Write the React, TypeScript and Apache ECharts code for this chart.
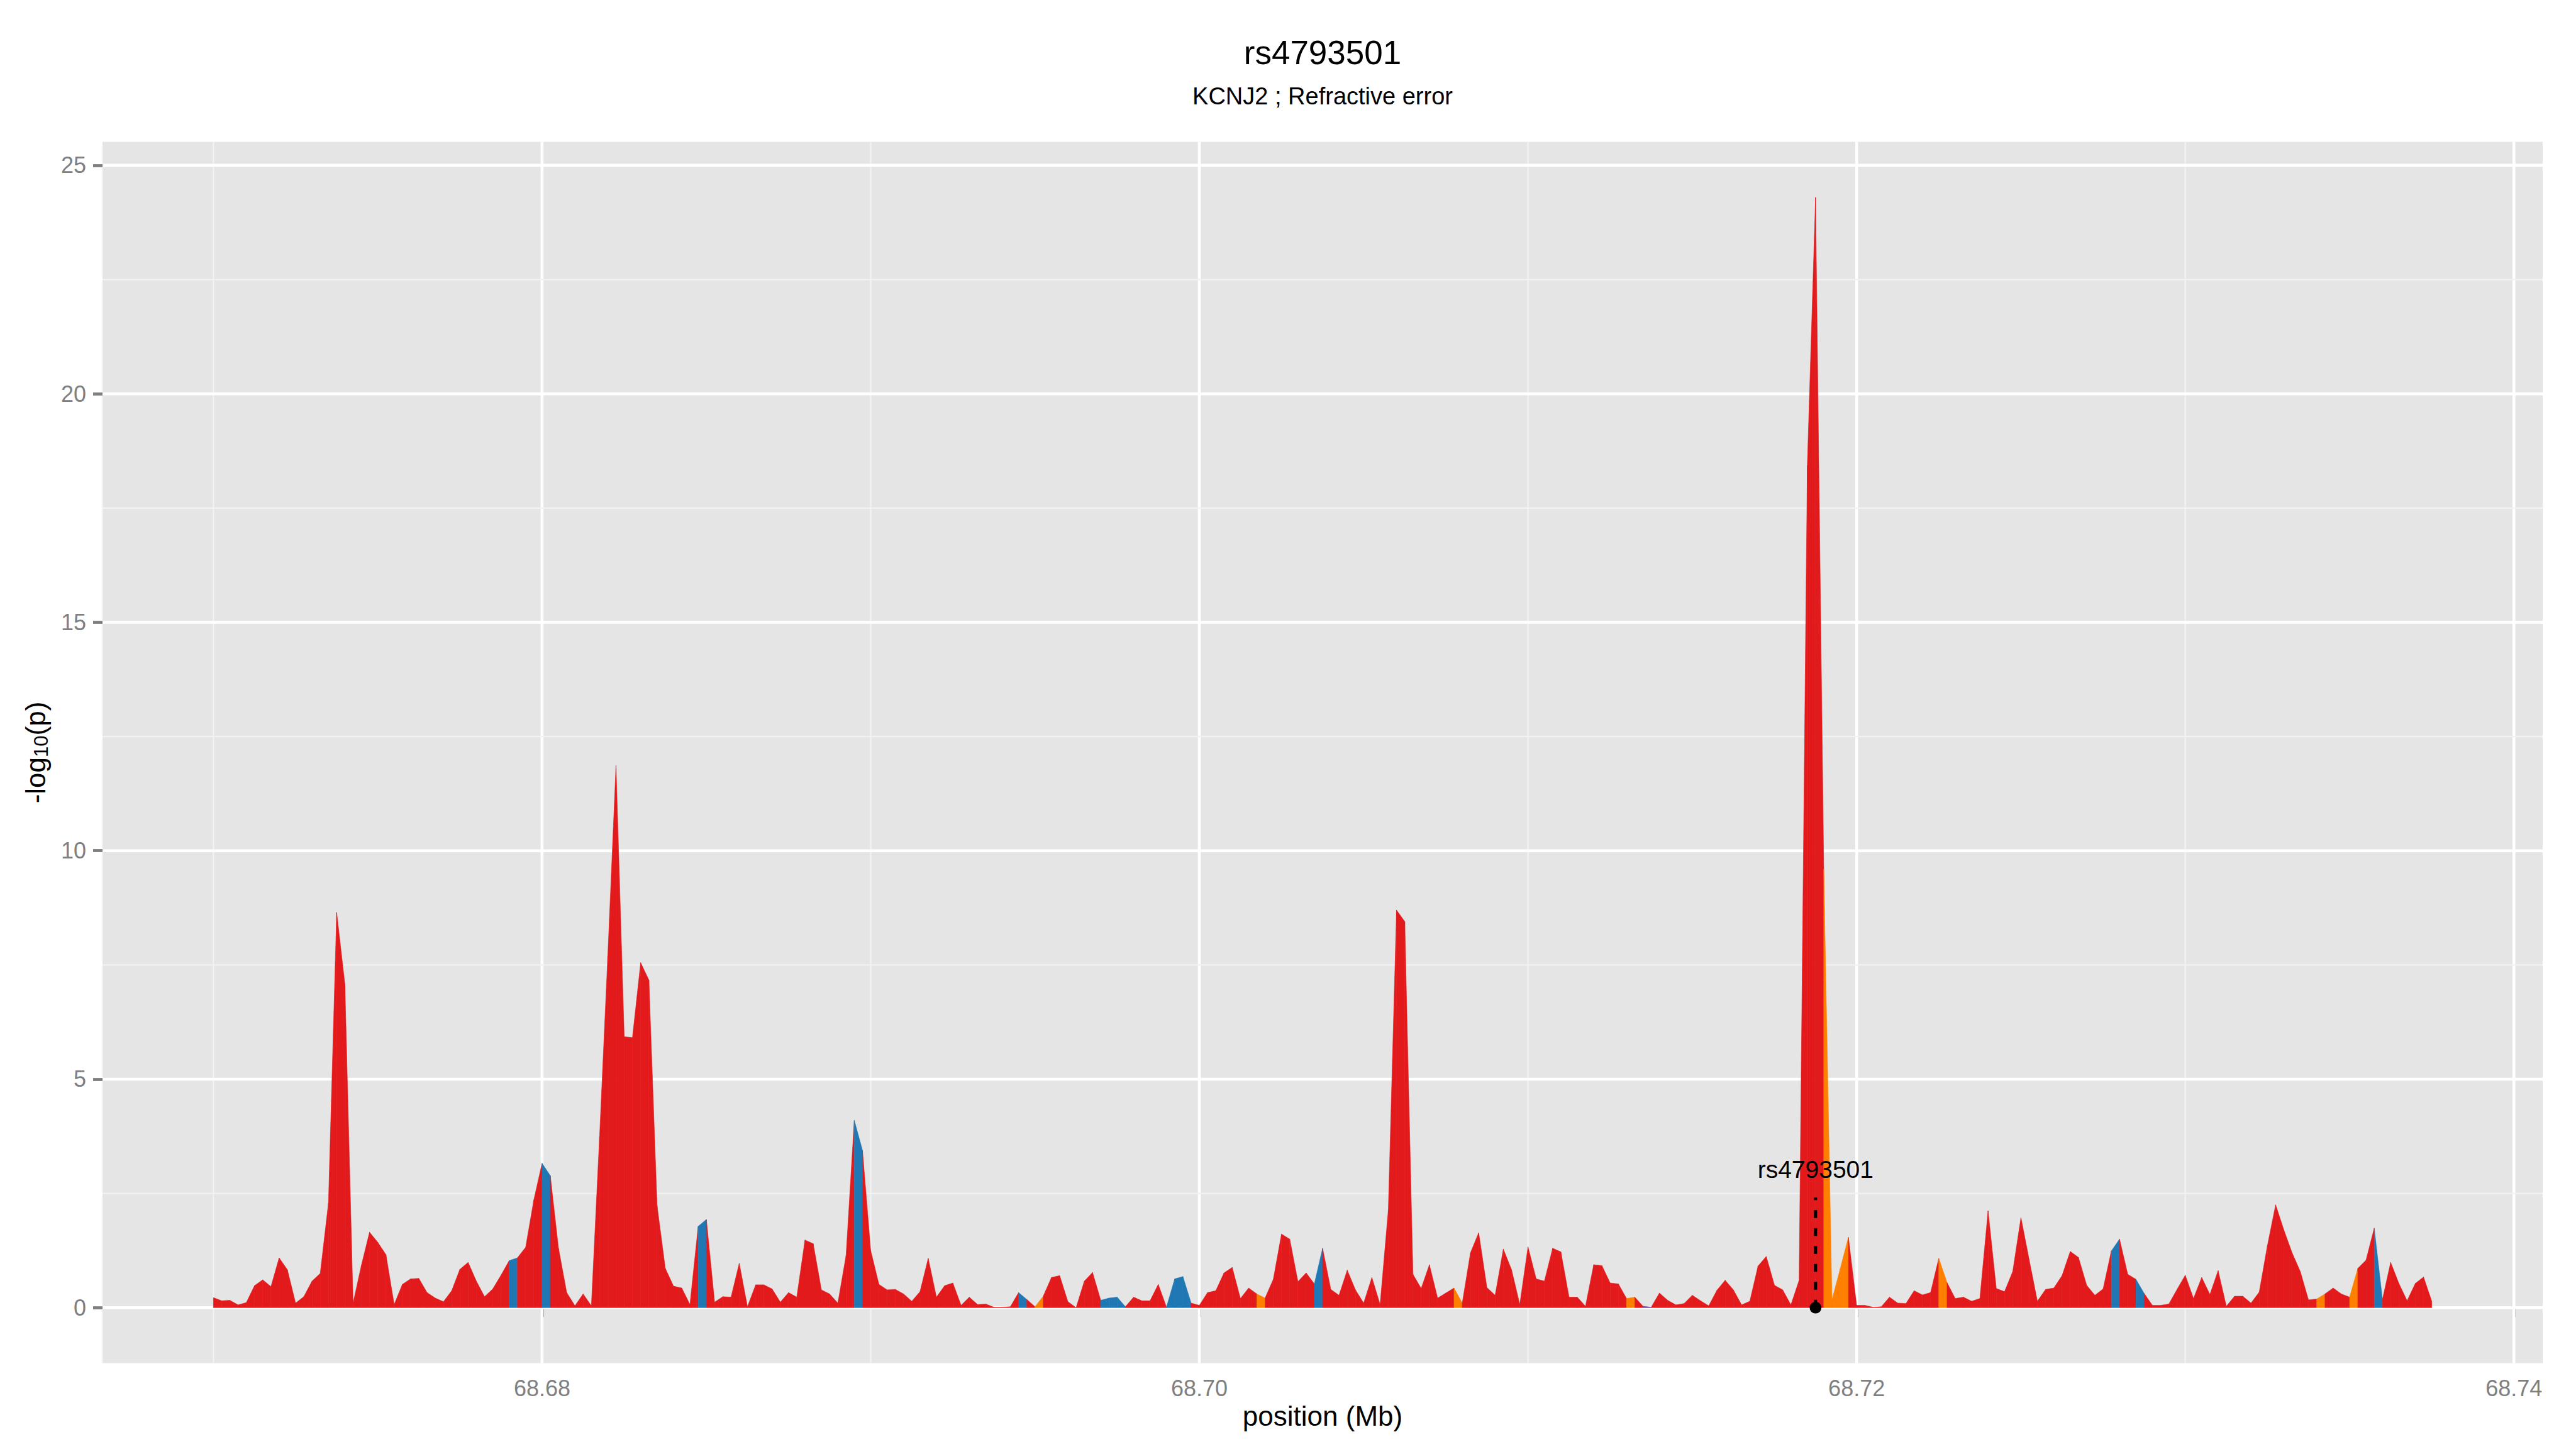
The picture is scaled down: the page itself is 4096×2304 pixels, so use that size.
import React, { useEffect, useRef } from "react";
import * as echarts from "echarts";

// ---------------- data ----------------
const plotTitle = "rs4793501";
const plotSubtitle = "KCNJ2 ; Refractive error";
const xAxisTitle = "position (Mb)";

// association signal, one value per 250 bp bin starting at 68.67 Mb
const binStartMb = 68.67;
const binWidthMb = 0.00025;
const negLog10P = [
  0.22, 0.15, 0.16, 0.06, 0.11, 0.48, 0.61, 0.46, 1.09, 0.83,
  0.10, 0.24, 0.58, 0.75, 2.29, 8.65, 7.08, 0.10, 0.92, 1.65,
  1.43, 1.16, 0.07, 0.51, 0.63, 0.64, 0.33, 0.21, 0.13, 0.37,
  0.84, 0.99, 0.58, 0.24, 0.41, 0.71, 1.03, 1.09, 1.32, 2.36,
  3.16, 2.89, 1.30, 0.33, 0.04, 0.30, 0.04, 3.75, 7.70, 11.87,
  5.93, 5.91, 7.55, 7.17, 2.23, 0.86, 0.47, 0.43, 0.07, 1.78,
  1.93, 0.12, 0.24, 0.23, 0.97, 0.02, 0.50, 0.50, 0.41, 0.12,
  0.33, 0.23, 1.48, 1.40, 0.39, 0.30, 0.10, 1.14, 4.10, 3.44,
  1.25, 0.51, 0.39, 0.40, 0.30, 0.14, 0.35, 1.08, 0.23, 0.48,
  0.54, 0.05, 0.23, 0.07, 0.08, 0.01, 0.01, 0.02, 0.33, 0.18,
  0.02, 0.25, 0.66, 0.70, 0.13, 0.00, 0.58, 0.77, 0.16, 0.21,
  0.23, 0.02, 0.23, 0.15, 0.15, 0.51, 0.01, 0.63, 0.68, 0.10,
  0.05, 0.33, 0.37, 0.76, 0.88, 0.20, 0.43, 0.30, 0.21, 0.62,
  1.61, 1.50, 0.57, 0.76, 0.52, 1.30, 0.40, 0.27, 0.82, 0.39,
  0.10, 0.66, 0.07, 2.14, 8.70, 8.45, 0.73, 0.42, 0.94, 0.21,
  0.32, 0.43, 0.10, 1.20, 1.64, 0.44, 0.27, 1.28, 0.83, 0.07,
  1.33, 0.63, 0.58, 1.30, 1.22, 0.23, 0.23, 0.03, 0.94, 0.92,
  0.54, 0.52, 0.20, 0.23, 0.03, 0.01, 0.32, 0.16, 0.06, 0.09,
  0.27, 0.15, 0.04, 0.38, 0.60, 0.39, 0.06, 0.14, 0.91, 1.12,
  0.49, 0.39, 0.06, 0.60, 18.43, 24.30, 9.60, 0.17, 0.85, 1.54,
  0.05, 0.05, 0.01, 0.02, 0.23, 0.10, 0.09, 0.37, 0.28, 0.33,
  1.08, 0.55, 0.20, 0.23, 0.14, 0.20, 2.12, 0.42, 0.35, 0.79,
  1.97, 1.05, 0.14, 0.40, 0.43, 0.70, 1.23, 1.10, 0.49, 0.27,
  0.41, 1.24, 1.50, 0.73, 0.62, 0.31, 0.05, 0.05, 0.08, 0.40,
  0.71, 0.20, 0.66, 0.29, 0.81, 0.03, 0.25, 0.25, 0.10, 0.34,
  1.36, 2.25, 1.70, 1.20, 0.79, 0.17, 0.19, 0.30, 0.43, 0.30,
  0.23, 0.86, 1.04, 1.74, 0.18, 0.99, 0.53, 0.15, 0.53, 0.67, 0.14,
];

// segment (bin i -> bin i+1) colour classes; all others are red
const blueSegments = [36, 40, 59, 78, 98, 108, 109, 110, 116, 117, 118, 134, 231, 234, 263];
const orangeSegments = [100, 127, 151, 172, 196, 197, 198, 210, 256, 260];
const purpleSegments = [174];
const classColors = ["#E31A1C", "#1F78B4", "#FF7F00", "#6A3D9A"];

// lead SNP annotation
const leadSnpName = "rs4793501";
const leadSnpIndex = 195;
const leadSnpLineTop = 2.41;
const leadSnpLabelY = 3.02;

// axis breaks
const xMajorBreaks = [68.68, 68.7, 68.72, 68.74];
const xMinorBreaks = [68.67, 68.69, 68.71, 68.73];
const yMajorBreaks = [0, 5, 10, 15, 20, 25];
const yMinorBreaks = [2.5, 7.5, 12.5, 17.5, 22.5];

// ---------------- layout ----------------
const W = 4096;
const H = 2304;
const FONT = "'Liberation Sans', Arial, Helvetica, sans-serif";
const GRID = { left: 163, right: 53, top: 225.5, bottom: 136.5 };

export default function App() {
  const ref = useRef<HTMLDivElement>(null);

  useEffect(() => {
    if (!ref.current) return;
    const chart = echarts.init(ref.current, null, { renderer: "svg", width: W, height: H });

    const positions = negLog10P.map((_, i) => +(binStartMb + i * binWidthMb).toFixed(6));
    const classOf = (i: number) =>
      blueSegments.includes(i) ? 1 : orangeSegments.includes(i) ? 2 : purpleSegments.includes(i) ? 3 : 0;
    const segments: number[][] = [];
    for (let i = 0; i < negLog10P.length - 1; i++) {
      segments.push([positions[i], negLog10P[i], positions[i + 1], negLog10P[i + 1], classOf(i)]);
    }

    const xSpan = positions[positions.length - 1] - positions[0];
    const xMin = positions[0] - 0.05 * xSpan;
    const xMax = positions[positions.length - 1] + 0.05 * xSpan;
    const yTop = Math.max(...negLog10P);
    const yMin = -0.05 * yTop;
    const yMax = yTop * 1.05;

    const vGrid = [
      ...xMinorBreaks.map((x) => [x, 0, 0]),
      ...xMajorBreaks.map((x) => [x, 0, 1]),
    ];
    const hGrid = [
      ...yMinorBreaks.map((y) => [xMin, y, 0]),
      ...yMajorBreaks.map((y) => [xMin, y, 1]),
    ];

    const gridCenterX = GRID.left + (W - GRID.left - GRID.right) / 2;

    chart.setOption({
      animation: false,
      backgroundColor: "#FFFFFF",
      graphic: [
        {
          type: "text",
          x: gridCenterX,
          y: 83.2,
          style: {
            text: plotTitle,
            fontSize: 53,
            fontFamily: FONT,
            fill: "#000000",
            align: "center",
            verticalAlign: "middle",
          },
        },
        {
          type: "text",
          x: gridCenterX,
          y: 152.7,
          style: {
            text: plotSubtitle,
            fontSize: 38,
            fontFamily: FONT,
            fill: "#000000",
            align: "center",
            verticalAlign: "middle",
          },
        },
      ],
      grid: {
        left: GRID.left,
        right: GRID.right,
        top: GRID.top,
        bottom: GRID.bottom,
        show: true,
        backgroundColor: "#E5E5E5",
        borderWidth: 0,
        containLabel: false,
        outerBoundsMode: "none",
      },
      xAxis: {
        type: "value",
        min: xMin,
        max: xMax,
        axisLine: { show: false },
        splitLine: { show: false },
        axisTick: {
          show: true,
          customValues: xMajorBreaks,
          length: 15,
          lineStyle: { color: "#7F7F7F", width: 4.8 },
        },
        axisLabel: {
          customValues: xMajorBreaks,
          formatter: (v: number) => v.toFixed(2),
          margin: 22,
          fontSize: 36,
          fontFamily: FONT,
          color: "#7F7F7F",
        },
        name: xAxisTitle,
        nameLocation: "middle",
        nameGap: 62,
        nameMoveOverlap: false,
        nameTextStyle: { fontSize: 44, fontFamily: FONT, color: "#000000" },
      },
      yAxis: {
        type: "value",
        min: yMin,
        max: yMax,
        axisLine: { show: false },
        splitLine: { show: false },
        axisTick: {
          show: true,
          customValues: yMajorBreaks,
          length: 15,
          lineStyle: { color: "#7F7F7F", width: 4.8 },
        },
        axisLabel: {
          customValues: yMajorBreaks,
          formatter: (v: number) => String(Math.round(v)),
          margin: 26,
          fontSize: 36,
          fontFamily: FONT,
          color: "#7F7F7F",
        },
        name: "{a|-log}{b|10}{a|(p)}",
        nameLocation: "middle",
        nameRotate: 90,
        nameGap: 82,
        nameMoveOverlap: false,
        nameTextStyle: {
          fontSize: 44,
          fontFamily: FONT,
          color: "#000000",
          rich: {
            a: { fontSize: 44, fontFamily: FONT, color: "#000000", lineHeight: 50 },
            b: { fontSize: 31, fontFamily: FONT, color: "#000000", lineHeight: 28, verticalAlign: "bottom" },
          },
        },
      },
      series: [
        {
          type: "custom",
          name: "vgrid",
          z: 1,
          silent: true,
          data: vGrid,
          renderItem: (params: any, api: any) => {
            const x = api.coord([api.value(0), 0])[0];
            const cs = params.coordSys;
            const major = api.value(2) === 1;
            return {
              type: "line",
              shape: { x1: x, y1: cs.y, x2: x, y2: cs.y + cs.height },
              style: { stroke: major ? "#FFFFFF" : "#F2F2F2", lineWidth: major ? 4.6 : 2.3 },
            };
          },
        },
        {
          type: "custom",
          name: "hgrid",
          z: 1,
          silent: true,
          data: hGrid,
          renderItem: (params: any, api: any) => {
            const y = api.coord([api.value(0), api.value(1)])[1];
            const cs = params.coordSys;
            const major = api.value(2) === 1;
            return {
              type: "line",
              shape: { x1: cs.x, y1: y, x2: cs.x + cs.width, y2: y },
              style: { stroke: major ? "#FFFFFF" : "#F2F2F2", lineWidth: major ? 4.6 : 2.3 },
            };
          },
        },
        {
          type: "custom",
          name: "signal",
          z: 2,
          silent: true,
          encode: { x: [0, 2], y: [1, 3] },
          data: segments,
          renderItem: (params: any, api: any) => {
            const x0 = api.value(0);
            const y0 = api.value(1);
            const x1 = api.value(2);
            const y1 = api.value(3);
            const color = classColors[api.value(4)];
            return {
              type: "polygon",
              shape: {
                points: [api.coord([x0, 0]), api.coord([x0, y0]), api.coord([x1, y1]), api.coord([x1, 0])],
              },
              style: { fill: color, stroke: color, lineWidth: 0.6 },
            };
          },
        },
        {
          type: "custom",
          name: "lead",
          z: 3,
          silent: true,
          data: [[positions[leadSnpIndex], 0]],
          renderItem: (params: any, api: any) => {
            const px = api.value(0);
            const base = api.coord([px, 0]);
            const top = api.coord([px, leadSnpLineTop]);
            const lab = api.coord([px, leadSnpLabelY]);
            return {
              type: "group",
              children: [
                {
                  type: "line",
                  shape: { x1: base[0], y1: base[1], x2: top[0], y2: top[1] },
                  style: { stroke: "#000000", lineWidth: 5, lineDash: [12.5, 16] },
                },
                {
                  type: "circle",
                  shape: { cx: base[0], cy: base[1], r: 9.3 },
                  style: { fill: "#000000" },
                },
                {
                  type: "text",
                  x: lab[0],
                  y: lab[1],
                  style: {
                    text: leadSnpName,
                    fontSize: 39,
                    fontFamily: FONT,
                    fill: "#000000",
                    align: "center",
                    verticalAlign: "middle",
                  },
                },
              ],
            };
          },
        },
      ],
    });

    return () => chart.dispose();
  }, []);

  return (
    <div
      ref={ref}
      style={{ position: "absolute", left: 0, top: 0, width: W, height: H, background: "#FFFFFF" }}
    />
  );
}
